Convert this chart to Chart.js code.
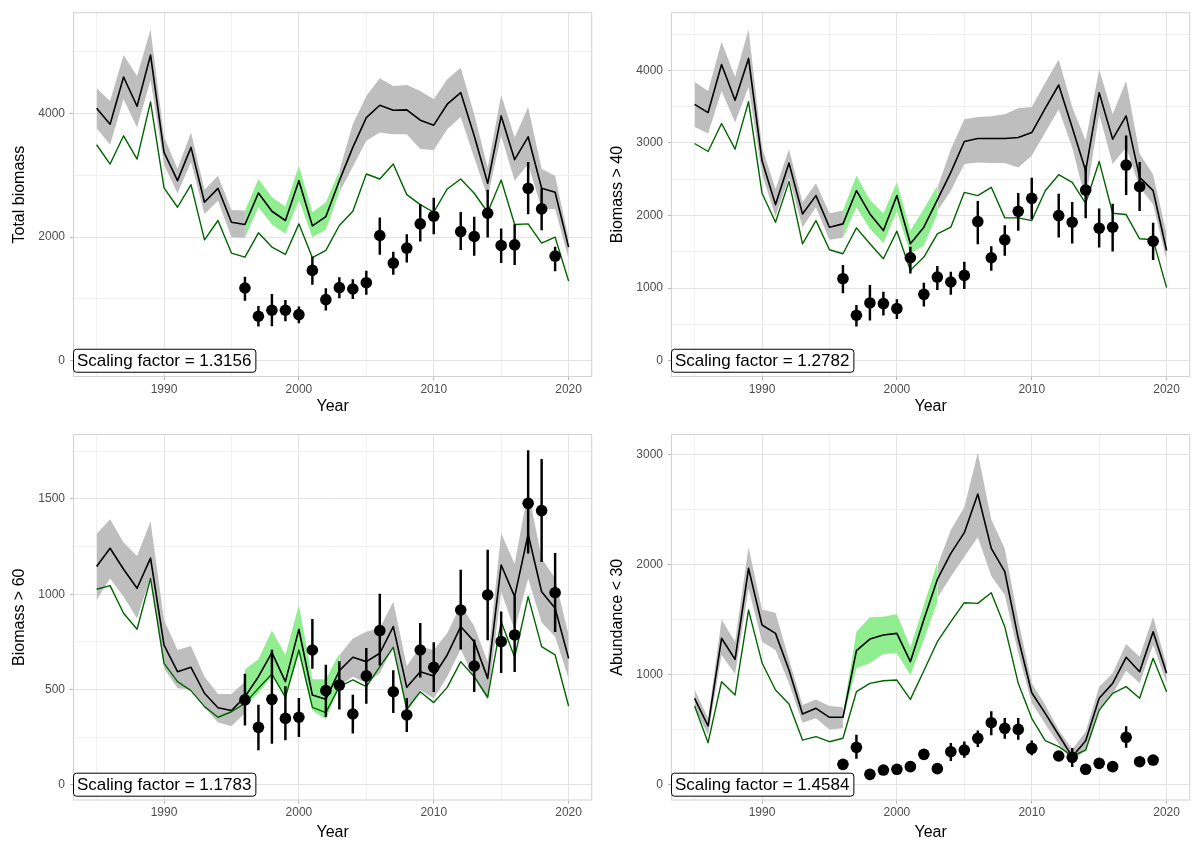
<!DOCTYPE html>
<html>
<head>
<meta charset="utf-8">
<script src="https://cdn.jsdelivr.net/npm/chart.js@4.4.1/dist/chart.umd.min.js"></script>
<style>
body { margin: 0; background: #fff; width: 1196px; height: 841px; overflow: hidden; }
.panel { position: absolute; width: 598px; }
</style>
</head>
<body>
<div class="panel" style="left:0;top:0;height:420px"><canvas id="c1"></canvas></div>
<div class="panel" style="left:598px;top:0;height:420px"><canvas id="c2"></canvas></div>
<div class="panel" style="left:0;top:420px;height:421px"><canvas id="c3"></canvas></div>
<div class="panel" style="left:598px;top:420px;height:421px"><canvas id="c4"></canvas></div>
<script>
const years = [1985,1986,1987,1988,1989,1990,1991,1992,1993,1994,1995,1996,1997,1998,1999,2000,2001,2002,
  2003,2004,2005,2006,2007,2008,2009,2010,2011,2012,2013,2014,2015,2016,2017,2018,2019,2020];
const altYears = [1996,1997,1998,1999,2000,2001,2002,2003];
const obsYears = [1996,1997,1998,1999,2000,2001,2002,2003,2004,2005,2006,2007,2008,2009,2010,
  2012,2013,2014,2015,2016,2017,2018,2019];
const xTicks = [1985,1990,1995,2000,2005,2010,2015,2020];

// Total biomass
const tbModel = [4086,3828,4591,4118,4946,3371,2914,3452,2565,2790,2242,2204,2715,2419,2269,2914,2183,2333,
  2914,3452,3935,4134,4054,4059,3892,3812,4151,4339,3640,2871,3962,3253,3624,2790,2726,1839];
const tbGreen = [3495,3183,3640,3263,4188,2796,2484,2849,1957,2269,1742,1677,2070,1839,1720,2215,1667,1785,
  2188,2419,3022,2941,3183,2688,2527,2403,2780,2941,2710,2403,2925,2204,2215,1903,2000,1290];
const tbGrayHi = [4409,4204,4946,4608,5360,3624,3102,3694,2769,2995,2441,2430,null,null,null,null,null,null,
  3075,3828,4285,4570,4446,4462,4366,4231,4554,4742,3989,3129,4301,3613,4108,3102,2995,1973];
const tbGrayLo = [3763,3495,4231,3774,4538,3172,2710,3210,2376,2591,2000,1989,null,null,null,null,null,null,
  2726,3140,3559,3694,3667,3667,3425,3409,3747,3946,3290,2645,3640,2914,3183,2457,2457,1651];
const tbAltHi = [2430,2941,2645,2495,3156,2403,2565,3075];
const tbAltLo = [1989,2484,2204,2054,2602,2000,2118,2726];
const tbObs = [1177,720,817,817,747,1462,989,1183,1161,1263,2027,1581,1823,2215,2339,2091,2011,2387,1866,1876,2790,2457,1694];
const tbObsLo = [978,559,565,645,613,1237,817,1016,1005,1075,1720,1398,1597,1935,2054,1796,1704,2000,1586,1554,2376,2118,1452];
const tbObsHi = [1355,882,1075,978,871,1677,1167,1344,1312,1452,2312,1758,2043,2527,2634,2403,2323,2763,2134,2204,3210,2780,1839];

// Biomass > 40
const b40Model = [3533,3419,4082,3588,4165,2755,2151,2723,2023,2275,1840,1886,2343,2023,1794,2275,1611,1840,
  2215,2595,3021,3062,3062,3062,3075,3144,3478,3799,3213,2618,3693,3053,3373,2526,2343,1519];
const b40Green = [2993,2883,3268,2915,3570,2307,1908,2471,1611,1931,1529,1474,1831,1611,1405,1785,1245,1428,
  1748,1840,2320,2275,2389,1968,1968,1931,2343,2563,2458,2169,2746,2032,2014,1680,1666,1007];
const b40GrayHi = [3844,3716,4394,3908,4563,2938,2366,2915,2183,2444,2032,2069,null,null,null,null,null,null,
  2380,2915,3327,3359,3368,3396,3478,3497,3831,4151,3497,3030,4014,3396,3854,2856,2563,1748];
const b40GrayLo = [3222,3130,3716,3281,3771,2572,1986,2526,1840,2114,1666,1693,null,null,null,null,null,null,
  2060,2343,2709,2732,2723,2723,2664,2824,3144,3465,2938,2206,3396,2709,2938,2389,2151,1382];
const b40AltHi = [2069,2549,2215,2032,2458,1794,2092,2412];
const b40AltLo = [1693,2114,1817,1620,2059,1474,1588,2023];
const b40Obs = [1130,627,796,787,719,1419,915,1153,1085,1176,1918,1419,1666,2059,2238,2000,1908,2352,1826,1840,2696,2398,1648];
const b40ObsLo = [934,476,558,627,581,1208,751,979,915,993,1611,1245,1451,1794,1954,1703,1620,1968,1565,1510,2288,2069,1391];
const b40ObsHi = [1313,764,1039,947,842,1565,1071,1300,1222,1359,2197,1574,1863,2307,2517,2297,2183,2686,2092,2160,3098,2732,1895];

// Biomass > 60
const b60Model = [1145,1241,1131,1031,1189,733,593,616,480,404,389,462,567,693,541,816,471,448,
  599,669,646,690,830,511,593,571,681,830,751,558,1153,987,1315,1013,926,663];
const b60Green = [1026,1045,900,816,1083,637,541,494,410,354,383,427,506,581,459,707,406,378,
  515,550,515,620,721,396,488,431,511,646,567,459,856,669,987,725,681,413];
const b60GrayHi = [1316,1393,1271,1201,1381,865,707,728,567,476,476,540,null,null,null,null,null,null,
  680,768,803,821,961,623,725,707,795,943,833,646,1320,1159,1544,1189,1083,786];
const b60GrayLo = [970,1083,987,873,1092,611,506,501,406,326,308,375,null,null,null,null,null,null,
  520,567,532,585,721,375,497,453,567,711,558,445,1013,812,1083,851,777,558];
const b60AltHi = [606,658,809,681,943,553,553,690];
const b60AltLo = [413,480,571,453,690,389,343,518];
const b60Obs = [445,301,448,348,354,707,494,523,371,571,809,488,366,707,616,917,623,996,751,786,1477,1439,1008];
const b60ObsLo = [313,182,217,235,252,611,357,396,270,427,628,378,278,564,488,711,488,760,588,593,1215,1171,803];
const b60ObsHi = [581,418,707,515,453,868,628,646,471,716,1001,599,453,847,746,1127,760,1232,908,987,1754,1708,1215];

// Abundance < 30
const a30Model = [786,534,1332,1140,1968,1453,1377,1043,643,695,613,613,1219,1325,1362,1377,1119,1504,
  1868,2105,2293,2645,2150,1938,1332,837,649,452,255,400,786,922,1159,1028,1392,1013];
const a30Green = [716,382,937,816,1589,1110,861,734,406,437,391,422,846,922,946,952,776,1037,
  1301,1483,1656,1650,1747,1438,922,604,400,346,261,315,679,831,892,786,1150,846];
const a30GrayHi = [867,604,1504,1301,2160,1595,1565,1140,725,776,716,704,null,null,null,null,null,null,
  1990,2317,2524,3021,2414,2150,1498,922,725,497,322,482,892,1013,1280,1165,1529,1089];
const a30GrayLo = [704,452,1180,1007,1786,1301,1225,922,564,604,503,513,null,null,null,null,null,null,
  1700,1893,2075,2251,1899,1726,1195,746,552,370,209,315,695,825,1037,922,1271,922];
const a30AltHi = [650,1392,1523,1529,1553,1250,1635,2020];
const a30AltLo = [590,1059,1104,1189,1195,998,1316,1665];
const a30Obs = [185,340,94,133,140,164,276,146,300,315,422,564,513,503,331,261,249,140,194,164,431,209,224];
const a30ObsLo = [160,240,75,110,118,140,245,124,218,249,346,452,422,412,270,235,164,118,170,140,340,185,200];
const a30ObsHi = [210,452,113,156,162,188,307,168,376,391,491,664,604,604,400,287,331,162,218,188,528,233,248];

const FONT = '"Liberation Sans", Arial, sans-serif';
Chart.defaults.font.family = FONT;

// ggplot-like panel border
const panelBorder = {
  id: 'panelBorder',
  afterDatasetsDraw(chart) {
    const a = chart.chartArea, ctx = chart.ctx;
    ctx.save();
    ctx.strokeStyle = '#D2D2D2';
    ctx.lineWidth = 1;
    ctx.strokeRect(a.left + 0.5, a.top + 0.5, a.right - a.left - 1, a.bottom - a.top - 1);
    ctx.restore();
  }
};

// boxed "Scaling factor" label sitting on y = 0
const scalingLabel = {
  id: 'scalingLabel',
  afterDraw(chart, args, opts) {
    const ctx = chart.ctx;
    const x = chart.chartArea.left;
    const y = chart.scales.y.getPixelForValue(0);
    ctx.save();
    ctx.font = '17px ' + FONT;
    const w = ctx.measureText(opts.text).width;
    ctx.beginPath();
    ctx.roundRect(x + 0.5, y - 11.5, w + 8, 23, 3);
    ctx.fillStyle = '#fff';
    ctx.fill();
    ctx.strokeStyle = '#000';
    ctx.lineWidth = 1;
    ctx.stroke();
    ctx.fillStyle = '#000';
    ctx.textBaseline = 'middle';
    ctx.fillText(opts.text, x + 4, y + 1);
    ctx.restore();
  }
};

function pts(vals, xs) {
  return vals.map((v, i) => ({x: xs[i], y: v}));
}

function makePanel(id, p) {
  const band = {borderColor: 'rgba(0,0,0,0)', borderWidth: 0, pointRadius: 0};
  new Chart(document.getElementById(id), {
    type: 'line',
    data: {
      datasets: [
        {...band, data: pts(p.grayHi, years), fill: '+1', backgroundColor: '#BEBEBE', order: 10},
        {...band, data: pts(p.grayLo, years), fill: false, order: 10},
        {...band, data: pts(p.altHi, altYears), fill: '+1', backgroundColor: '#90EE90', order: 9},
        {...band, data: pts(p.altLo, altYears), fill: false, order: 9},
        {data: pts(p.model, years), borderColor: '#000', borderWidth: 1.6, pointRadius: 0,
          borderJoinStyle: 'round', order: 5},
        {data: pts(p.green, years), borderColor: '#006400', borderWidth: 1.4, pointRadius: 0,
          borderJoinStyle: 'round', order: 4},
        {type: 'bar', data: p.obsLo.map((lo, i) => ({x: obsYears[i], y: [lo, p.obsHi[i]]})),
          backgroundColor: '#000', barThickness: 1.8, order: 2},
        {type: 'scatter', data: pts(p.obs, obsYears), pointRadius: 5.8, pointBackgroundColor: '#000',
          pointBorderWidth: 0, order: 1}
      ]
    },
    options: {
      responsive: true,
      maintainAspectRatio: false,
      animation: false,
      layout: {padding: {top: p.top, right: 3, left: 0, bottom: 0}},
      plugins: {
        legend: {display: false},
        tooltip: {enabled: false},
        scalingLabel: {text: p.label}
      },
      scales: {
        x: {
          type: 'linear', min: 1983.25, max: 2021.75, offset: false,
          afterBuildTicks: s => { s.ticks = xTicks.map(v => ({value: v})); },
          afterFit: s => { s.height = p.xh; },
          ticks: {
            autoSkip: false, maxRotation: 0, padding: 2, color: '#4D4D4D', font: {size: 12},
            callback: v => v % 10 === 0 ? String(v) : ''
          },
          grid: {
            offset: false, lineWidth: 1, tickLength: 3,
            color: c => c.tick.value % 10 === 0 ? '#E3E3E3' : '#F0F0F0',
            tickColor: c => c.tick.value % 10 === 0 ? '#B3B3B3' : 'rgba(0,0,0,0)'
          },
          border: {display: false},
          title: {display: true, text: 'Year', color: '#000', font: {size: 16, lineHeight: 1},
            padding: {top: 0, bottom: p.yearPad}}
        },
        y: {
          type: 'linear', min: p.yMin, max: p.yMax,
          afterBuildTicks: s => { s.ticks = p.yTicks.map(v => ({value: v})); },
          afterFit: s => { s.width = 73; },
          ticks: {
            autoSkip: false, padding: 5, color: '#4D4D4D', font: {size: 12},
            callback: v => v % p.major === 0 ? String(v) : ''
          },
          grid: {
            lineWidth: 1, tickLength: 3,
            color: c => c.tick.value % p.major === 0 ? '#E3E3E3' : '#F0F0F0',
            tickColor: c => c.tick.value % p.major === 0 ? '#B3B3B3' : 'rgba(0,0,0,0)'
          },
          border: {display: false},
          title: {display: true, text: p.yTitle, color: '#000', font: {size: 16, lineHeight: 1},
            padding: {top: 12, bottom: 0}}
        }
      }
    },
    plugins: [panelBorder, scalingLabel]
  });
}

makePanel('c1', {
  model: tbModel, green: tbGreen, grayHi: tbGrayHi, grayLo: tbGrayLo, altHi: tbAltHi, altLo: tbAltLo,
  obs: tbObs, obsLo: tbObsLo, obsHi: tbObsHi,
  yTitle: 'Total biomass', label: 'Scaling factor = 1.3156',
  yMin: -263, yMax: 5640, yTicks: [0,1000,2000,3000,4000,5000], major: 2000,
  top: 11, xh: 43, yearPad: 5
});
makePanel('c2', {
  model: b40Model, green: b40Green, grayHi: b40GrayHi, grayLo: b40GrayLo, altHi: b40AltHi, altLo: b40AltLo,
  obs: b40Obs, obsLo: b40ObsLo, obsHi: b40ObsHi,
  yTitle: 'Biomass > 40', label: 'Scaling factor = 1.2782',
  yMin: -224, yMax: 4802, yTicks: [0,500,1000,1500,2000,2500,3000,3500,4000,4500], major: 1000,
  top: 11, xh: 43, yearPad: 5
});
makePanel('c3', {
  model: b60Model, green: b60Green, grayHi: b60GrayHi, grayLo: b60GrayLo, altHi: b60AltHi, altLo: b60AltLo,
  obs: b60Obs, obsLo: b60ObsLo, obsHi: b60ObsHi,
  yTitle: 'Biomass > 60', label: 'Scaling factor = 1.1783',
  yMin: -83, yMax: 1841, yTicks: [0,250,500,750,1000,1250,1500,1750], major: 500,
  top: 14, xh: 40.5, yearPad: 0
});
makePanel('c4', {
  model: a30Model, green: a30Green, grayHi: a30GrayHi, grayLo: a30GrayLo, altHi: a30AltHi, altLo: a30AltLo,
  obs: a30Obs, obsLo: a30ObsLo, obsHi: a30ObsHi,
  yTitle: 'Abundance < 30', label: 'Scaling factor = 1.4584',
  yMin: -144, yMax: 3191, yTicks: [0,500,1000,1500,2000,2500,3000], major: 1000,
  top: 14, xh: 40.5, yearPad: 0
});
</script>
</body>
</html>
